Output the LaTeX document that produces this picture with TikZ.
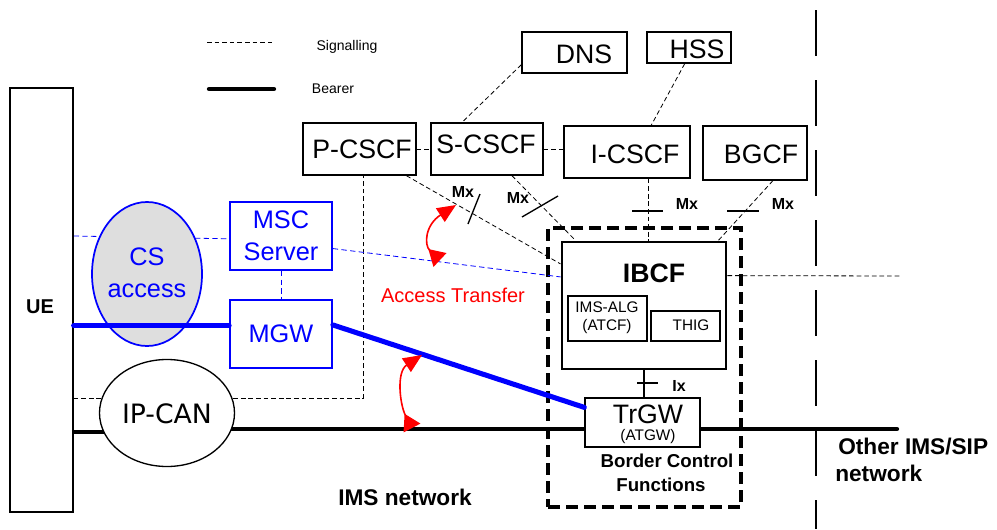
\documentclass[tikz,border=0pt]{standalone}
\usepackage{fontspec}
\setmainfont{Liberation Sans}
\newfontfamily\ipfont{DejaVu Sans}
\usetikzlibrary{arrows.meta,shapes.geometric,calc}
\definecolor{bblue}{RGB}{0,0,255}
\definecolor{rred}{RGB}{255,0,0}
\definecolor{csgray}{RGB}{222,222,222}
\newcommand\fsz[1]{\fontsize{#1}{#1}\selectfont}
\newcommand\mkbox[6]{\node[#2, minimum width={(#5-(#3))*0.75pt}, minimum height={(#6-(#4))*0.75pt}] (#1) at ({(#3+#5)/2},{(#4+#6)/2}) {};}
\pgfdeclarelayer{bg}
\pgfsetlayers{bg,main}
\begin{document}
\begin{tikzpicture}[x=0.75pt,y=-0.75pt,
  box/.style={draw, line width=1pt, inner sep=0pt, fill=white},
  thinbox/.style={draw, line width=0.8pt, inner sep=0pt, fill=white},
  ibcfbox/.style={draw, line width=2.2pt, inner sep=0pt, fill=white},
  bluebox/.style={draw=bblue, line width=1.3pt, inner sep=0pt, fill=white},
  bcfbox/.style={draw, line width=2.4pt, inner sep=0pt, dash pattern=on 9pt off 4.5pt},
  sig/.style={line width=0.6pt, dash pattern=on 3.5pt off 2.2pt},
  bsig/.style={draw=bblue, line width=0.6pt, dash pattern=on 4pt off 2.5pt},
  bearer/.style={line width=3.2pt, line cap=round},
  bbearer/.style={draw=bblue, line width=3.8pt, line cap=round},
  lbl/.style={anchor=base, inner sep=0pt},
  tickline/.style={line width=1pt},
  redarr/.style={draw=rred, line width=1.2pt, {Triangle[reversed,length=12pt,width=14pt,fill=rred]}-{Triangle[length=14pt,width=12pt,fill=rred]}},
  bigdash/.style={line width=1.6pt, dash pattern=on 34.5pt off 18pt}
]
\useasboundingbox (0,0) rectangle (997,529);

% legend
\coordinate (lg1) at (207,42); \coordinate (lg2) at (273,42);
\coordinate (lb1) at (209,89); \coordinate (lb2) at (274,89);
\draw[sig] (lg1) -- (lg2);
\draw[bearer] (lb1) -- (lb2);
\node[lbl] (tsig) at (347,50) {\fsz{10.5}Signalling};
\node[lbl] (tbea) at (333,93) {\fsz{10.5}Bearer};

% boxes
\mkbox{ue}{box}{10}{88}{73}{512}
\mkbox{pcscf}{box}{303}{123}{416}{175}
\mkbox{scscf}{box}{431}{123}{543}{175}
\mkbox{dns}{box}{522}{32}{627}{73}
\mkbox{hss}{box}{647}{32}{731}{63}
\mkbox{icscf}{box}{564}{126}{690}{178}
\mkbox{bgcf}{box}{703}{126}{807}{180}
\mkbox{bcf}{bcfbox}{548}{228}{741}{507}
\mkbox{ibcf}{ibcfbox}{562}{242}{726}{369}
\mkbox{imsalg}{thinbox}{568}{296}{647}{341}
\mkbox{thig}{thinbox}{651}{311}{720}{341}
\mkbox{trgw}{box}{585}{398}{700}{447}

\node[ellipse, draw=bblue, line width=1.3pt, fill=csgray, minimum width=110*0.75pt, minimum height=144*0.75pt, inner sep=0pt] (cs) at (147,274) {};
\node[ellipse, draw, line width=1pt, fill=white, minimum width=135*0.75pt, minimum height=107*0.75pt, inner sep=0pt] (ipcan) at (167,413) {};

\mkbox{msc}{bluebox}{230}{202}{332}{270}
\mkbox{mgw}{bluebox}{230}{300}{332}{368}

\coordinate (sigR) at (900,276);
\coordinate (bR) at (897,429);
\coordinate (ipy) at (0,398);
\coordinate (uey) at (0,432);

\begin{pgfonlayer}{bg}
  \draw[sig] (ue.east |- ipy) -| ($(pcscf.south west)!0.53!(pcscf.south east)$);
  \draw[bsig] (ue.east |- msc.west) -- ($(msc.north west)!0.54!(msc.south west)$);
  \draw[bearer] (ue.east |- uey) -- (ipcan.center |- uey);
  \draw[bearer] (ipcan.center |- bR) -- (bR);
\end{pgfonlayer}

\draw[sig] (pcscf.east) -- (scscf.west);
\draw[sig] (scscf.east) -- (scscf.east -| icscf.west);
\draw[sig] ([yshift=6.75pt]dns.south west) -- ($(scscf.north west)!0.28!(scscf.north east)$);
\draw[sig] ($(hss.south west)!0.45!(hss.south east)$) -- ($(icscf.north west)!0.69!(icscf.north east)$);
\draw[sig] ($(pcscf.south west)!0.91!(pcscf.south east)$) -- ($(ibcf.north west)!0.18!(ibcf.south west)$);
\draw[sig] ($(scscf.south west)!0.72!(scscf.south east)$) -- ($(ibcf.north west)!0.09!(ibcf.north east)$);
\coordinate (ic1) at ($(icscf.south west)!0.67!(icscf.south east)$);
\draw[sig] (ic1) -- (ic1 |- ibcf.north);
\draw[sig] ($(bgcf.south west)!0.67!(bgcf.south east)$) -- ($(ibcf.north west)!0.945!(ibcf.north east)$);
\draw[bsig] ($(msc.north east)!0.68!(msc.south east)$) -- ($(ibcf.north west)!0.28!(ibcf.south west)$);
\draw[bsig] (msc.south) -- (mgw.north);
\draw[sig] ($(ibcf.north east)!0.27!(ibcf.south east)$) -- (sigR);
\draw[line width=2pt] (ibcf.south) -- (trgw.north -| ibcf.south);

% blue bearers
\coordinate (mgwL) at ($(mgw.north west)!0.38!(mgw.south west)$);
\draw[bbearer] (ue.east |- mgwL) -- (mgwL);
\draw[bbearer] ($(mgw.north east)!0.37!(mgw.south east)$) -- ($(trgw.north west)!0.2!(trgw.south west)$);

% ticks
\draw[tickline] (480,194) -- (468,224);
\draw[tickline] (558,196) -- (522,217);
\draw[tickline] (632,211) -- (663,211);
\draw[tickline] (727,211) -- (759,211);
\draw[tickline] (637,383) -- (658,383);

% big dashed boundary
\coordinate (vb1) at (816,10); \coordinate (vb2) at (816,529);
\draw[bigdash] (vb1) -- (vb2);

% red arrows
\coordinate (a1b) at (440,260); \coordinate (a1t) at (456,205);
\coordinate (a2b) at (412,428); \coordinate (a2t) at (422,355);
\draw[redarr] (a1b) .. controls (424,245) and (425,225) .. (a1t);
\draw[redarr] (a2b) .. controls (400,405) and (396,372) .. (a2t);

% texts
\node[lbl] (tue) at (40,313) {\fsz{15}\bfseries UE};
\node[lbl] (tp) at (362,158) {\fsz{20}P-CSCF};
\node[lbl] (ts) at (486,153) {\fsz{20}S-CSCF};
\node[lbl] (td) at (584,63) {\fsz{20}DNS};
\node[lbl] (th) at (697,58) {\fsz{20}HSS};
\node[lbl] (ti) at (635,163) {\fsz{20}I-CSCF};
\node[lbl] (tb) at (761,163) {\fsz{20}BGCF};
\node[lbl, text=bblue] (tmsc) at (281,228) {\fsz{19}MSC};
\node[lbl, text=bblue] (tsrv) at (281,260) {\fsz{19}Server};
\node[lbl, text=bblue] (tcs) at (147,265) {\fsz{19}CS};
\node[lbl, text=bblue] (tacc) at (147,297) {\fsz{19}access};
\node[lbl, text=bblue] (tmgw) at (281,342) {\fsz{19}MGW};
\node[lbl] (tip) at (167,423) {\fsz{20}\ipfont IP-CAN};
\node[lbl] (tibcf) at (654,282) {\fsz{20}\bfseries IBCF};
\node[lbl] (tims) at (607,312) {\fsz{11.5}IMS-ALG};
\node[lbl] (tatcf) at (607,330) {\fsz{11.5}(ATCF)};
\node[lbl] (tthig) at (691,330) {\fsz{11.5}THIG};
\node[lbl] (ttr) at (648,423) {\fsz{20}TrGW};
\node[lbl] (tatgw) at (648,440) {\fsz{11.5}(ATGW)};
\node[lbl] (tm1) at (463,197) {\fsz{12}\bfseries Mx};
\node[lbl] (tm2) at (518,203) {\fsz{12}\bfseries Mx};
\node[lbl] (tm3) at (687,209) {\fsz{12}\bfseries Mx};
\node[lbl] (tm4) at (783,209) {\fsz{12}\bfseries Mx};
\node[lbl] (tix) at (679,391) {\fsz{12}\bfseries Ix};
\node[lbl, text=rred] (tat) at (453,302) {\fsz{15}Access Transfer};
\node[lbl] (tbc1) at (667,467) {\fsz{14}\bfseries Border Control};
\node[lbl] (tbc2) at (661,491) {\fsz{14}\bfseries Functions};
\node[lbl, anchor=base west] (to1) at (838,454) {\fsz{17}\bfseries Other IMS/SIP};
\node[lbl, anchor=base west] (to2) at (835,481) {\fsz{17}\bfseries network};
\node[lbl, anchor=base west] (tims2) at (338,505) {\fsz{17}\bfseries IMS network};
\end{tikzpicture}
\end{document}
